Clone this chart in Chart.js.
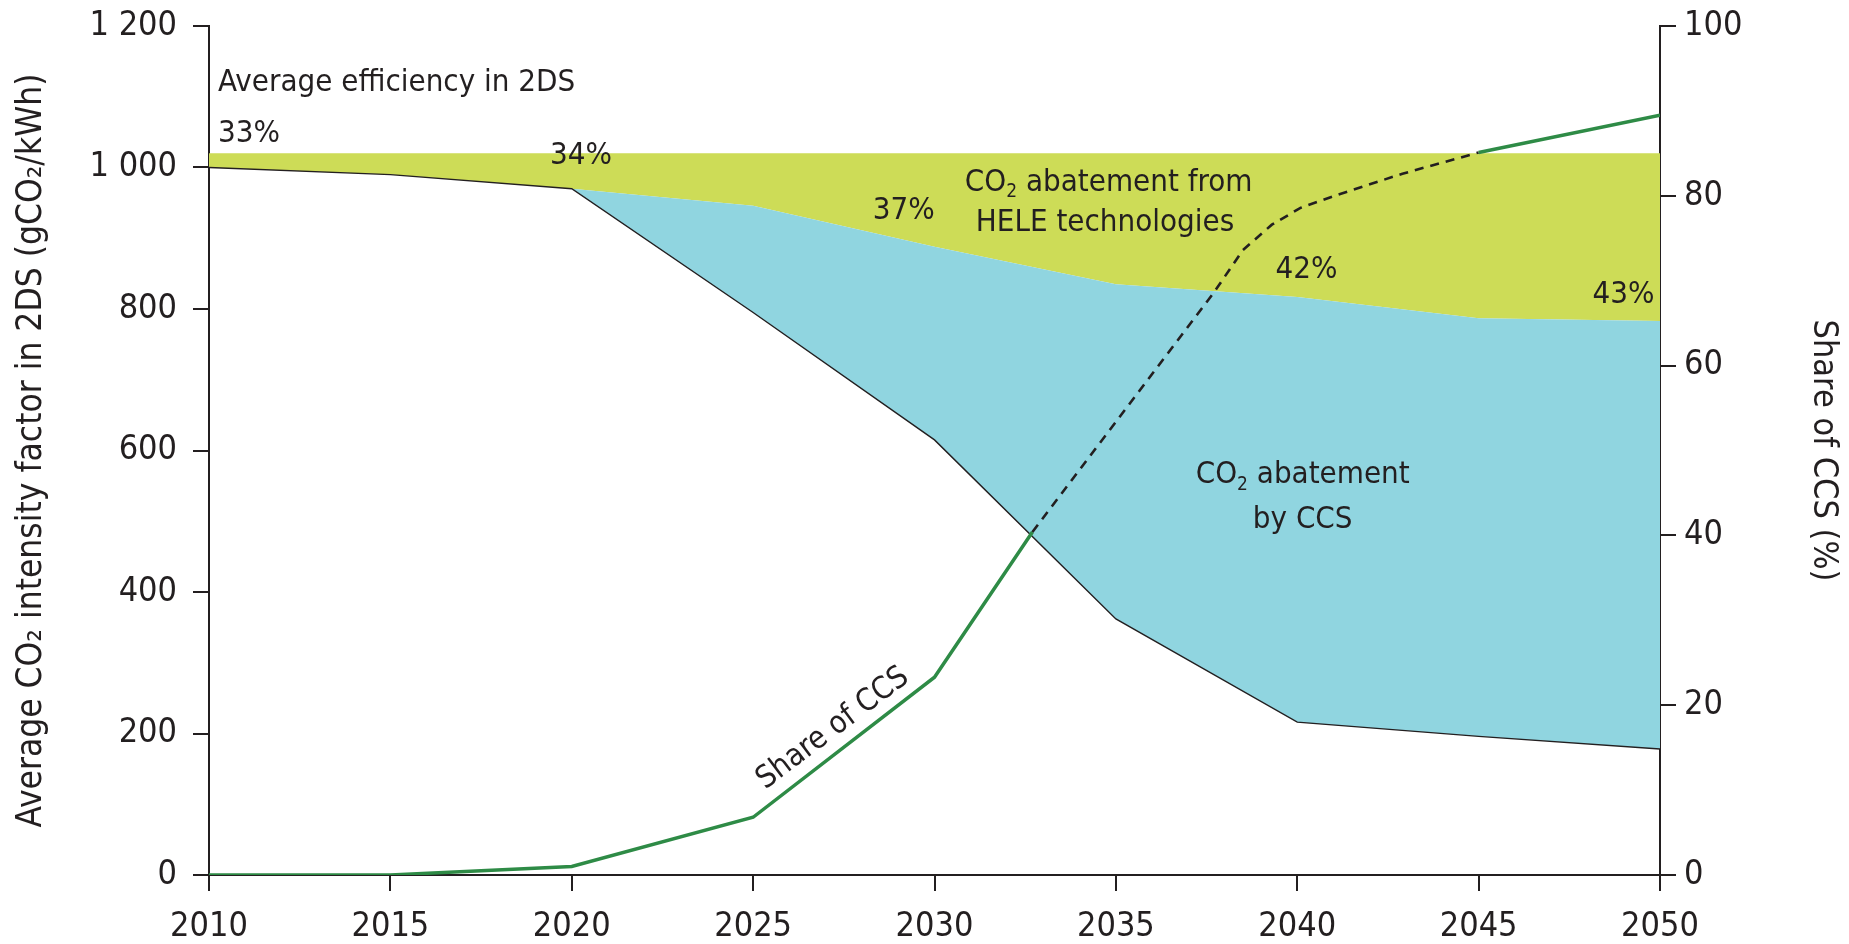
<!DOCTYPE html>
<html>
<head>
<meta charset="utf-8">
<script src="https://cdn.jsdelivr.net/npm/chart.js@4.4.1/dist/chart.umd.min.js"></script>
<style>
  html, body { margin: 0; padding: 0; background: #fff; }
  canvas { display: block; }
</style>
</head>
<body>
<canvas id="co2chart" width="1849" height="944"></canvas>
<script>
// values
var years = [2010, 2015, 2020, 2025, 2030, 2035, 2040, 2045, 2050];
var heleTop = [1020, 1020, 1020, 1020, 1020, 1020, 1020, 1020, 1020];
var efficiencyLine = [1000, 990, 970, 946, 888, 835, 817, 787, 783];
var ccsLine = [1000, 990, 970, 795, 615, 362, 216, 196, 178];

var shareYears = [2010, 2015, 2020, 2025, 2030, 2032.7, 2037.7, 2038.5, 2039.3, 2040.1, 2041.1, 2042.9, 2045, 2050];
var shareCcs = [0, 0, 1, 6.8, 23.3, 40.4, 68.6, 73.6, 76.6, 78.6, 80.1, 82.6, 85.1, 89.5];
var dashFrom = 2032.7, dashTo = 2045;

var xTicks = [2010, 2015, 2020, 2025, 2030, 2035, 2040, 2045, 2050];
var leftTicks = [0, 200, 400, 600, 800, 1000, 1200];
var rightTicks = [0, 20, 40, 60, 80, 100];

var ink = '#231f20';
var fontFam = '"Liberation Sans Narrow", "DejaVu Sans Condensed", "Liberation Sans", sans-serif';

function xy(xs, ys) {
  return xs.map(function (x, i) { return { x: x, y: ys[i] }; });
}
function spaced(v) {
  return String(v).replace(/\B(?=(\d{3})+(?!\d))/g, ' ');
}
function inDash(c) {
  return c.p0.parsed.x >= dashFrom - 0.01 && c.p1.parsed.x <= dashTo + 0.01;
}

// text notes on the plot: [parts, year, value, align, rotation]
// a nested array in parts is drawn as subscript
var notes = [
  [['Average efficiency in 2DS'], 2010.25, 1120, 'left', 0],
  [['33%'], 2010.25, 1048, 'left', 0],
  [['34%'], 2019.4, 1017, 'left', 0],
  [['37%'], 2028.3, 938, 'left', 0],
  [['CO', ['2'], ' abatement from'], 2034.8, 978, 'center', 0],
  [['HELE technologies'], 2034.7, 922, 'center', 0],
  [['42%'], 2039.4, 855, 'left', 0],
  [['43%'], 2049.85, 820, 'right', 0],
  [['CO', ['2'], ' abatement'], 2040.15, 565, 'center', 0],
  [['by CCS'], 2040.15, 502, 'center', 0],
  [['Share of CCS'], 2027.2, 207, 'center', -37]
];

function drawParts(ctx, parts, x, y, align, size) {
  var big = size + 'px ' + fontFam, small = Math.round(size * 0.6) + 'px ' + fontFam;
  var w = 0;
  parts.forEach(function (p) {
    ctx.font = Array.isArray(p) ? small : big;
    w += ctx.measureText(Array.isArray(p) ? p[0] : p).width;
  });
  var sx = align === 'left' ? x : align === 'right' ? x - w : x - w / 2;
  ctx.textAlign = 'left';
  ctx.textBaseline = 'middle';
  parts.forEach(function (p) {
    var sub = Array.isArray(p);
    var t = sub ? p[0] : p;
    ctx.font = sub ? small : big;
    ctx.fillText(t, sx, sub ? y + size * 0.3 : y);
    sx += ctx.measureText(t).width;
  });
}

var notesPlugin = {
  id: 'notes',
  afterDatasetsDraw: function (chart) {
    var ctx = chart.ctx, xs = chart.scales.x, ys = chart.scales.y;
    ctx.save();
    ctx.fillStyle = ink;
    notes.forEach(function (n) {
      var px = xs.getPixelForValue(n[1]), py = ys.getPixelForValue(n[2]);
      ctx.save();
      ctx.translate(px, py);
      ctx.rotate(n[4] * Math.PI / 180);
      drawParts(ctx, n[0], 0, 0, n[3], 31);
      ctx.restore();
    });
    ctx.restore();
  }
};

var axisLook = {
  grid: { drawOnChartArea: false, drawTicks: true, tickLength: 16, color: ink, lineWidth: 2 },
  border: { display: true, color: ink, width: 2 }
};

// keep the vertical axes from pushing the plot down
function noOverhang(s) {
  s.paddingTop = 0;
  s.paddingBottom = 0;
}

new Chart(document.getElementById('co2chart'), {
  type: 'line',
  data: {
    datasets: [
      {
        label: 'Share of CCS',
        data: xy(shareYears, shareCcs),
        yAxisID: 'y2',
        borderColor: '#2e8b46',
        borderWidth: 3.5,
        pointRadius: 0,
        fill: false,
        segment: {
          borderColor: function (c) { return inDash(c) ? ink : '#2e8b46'; },
          borderDash: function (c) { return inDash(c) ? [9, 7] : []; },
          borderWidth: function (c) { return inDash(c) ? 2.6 : 3.5; }
        }
      },
      {
        label: 'CCS',
        data: xy(years, ccsLine),
        yAxisID: 'y',
        borderColor: ink,
        borderWidth: 1.4,
        pointRadius: 0,
        fill: false
      },
      {
        label: 'Efficiency',
        data: xy(years, efficiencyLine),
        yAxisID: 'y',
        borderWidth: 0,
        borderColor: 'rgba(0,0,0,0)',
        backgroundColor: '#90d5e0',
        pointRadius: 0,
        fill: 1
      },
      {
        label: 'HELE',
        data: xy(years, heleTop),
        yAxisID: 'y',
        borderWidth: 0,
        borderColor: 'rgba(0,0,0,0)',
        backgroundColor: '#cddc57',
        pointRadius: 0,
        fill: 2
      }
    ]
  },
  options: {
    responsive: false,
    animation: false,
    layout: { padding: { top: 26, left: 0, right: 0, bottom: 0 } },
    plugins: {
      legend: { display: false },
      tooltip: { enabled: false }
    },
    scales: {
      x: Object.assign({
        type: 'linear',
        min: 2010,
        max: 2050,
        afterBuildTicks: function (s) { s.ticks = xTicks.map(function (v) { return { value: v }; }); },
        afterFit: function (s) { s.height = 69; },
        ticks: {
          autoSkip: false, maxRotation: 0, padding: 16, color: ink,
          font: { family: fontFam, size: 34 },
          callback: function (v) { return String(v); }
        }
      }, axisLook),
      y: Object.assign({
        position: 'left',
        min: 0,
        max: 1200,
        afterBuildTicks: function (s) { s.ticks = leftTicks.map(function (v) { return { value: v }; }); },
        afterFit: function (s) { s.width = 209; noOverhang(s); },
        ticks: {
          padding: 16, color: ink,
          font: { family: fontFam, size: 34 },
          callback: function (v) { return spaced(v); }
        },
        title: {
          display: true,
          text: 'Average CO\u2082 intensity factor in 2DS (gCO\u2082/kWh)',
          color: ink,
          font: { family: fontFam, size: 35 },
          padding: { top: 11, bottom: 0 }
        }
      }, axisLook),
      y2: Object.assign({
        position: 'right',
        min: 0,
        max: 100,
        afterBuildTicks: function (s) { s.ticks = rightTicks.map(function (v) { return { value: v }; }); },
        afterFit: function (s) { s.width = 189; noOverhang(s); },
        ticks: {
          padding: 8, color: ink,
          font: { family: fontFam, size: 34 }
        },
        title: {
          display: true,
          text: 'Share of CCS (%)',
          color: ink,
          font: { family: fontFam, size: 34 },
          padding: { top: 6, bottom: 0 }
        }
      }, axisLook)
    }
  },
  plugins: [notesPlugin]
});
</script>
</body>
</html>
